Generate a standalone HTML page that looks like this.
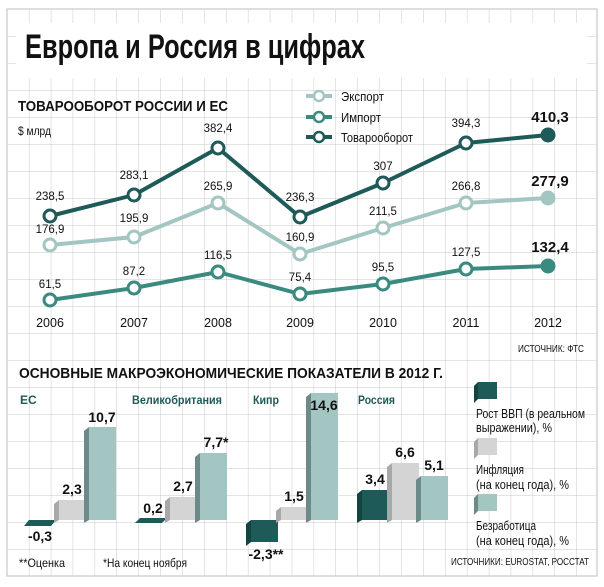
<!DOCTYPE html>
<html><head><meta charset="utf-8"><style>
body{margin:0;background:#fff}
svg{display:block}
text{font-family:"Liberation Sans",sans-serif;fill:#111}
</style></head><body>
<svg width="604" height="587" viewBox="0 0 604 587" xmlns="http://www.w3.org/2000/svg">
<defs>
<pattern id="g" x="7" y="9" width="21.9" height="27" patternUnits="userSpaceOnUse">
<path d="M0 0V27M0 0H21.9" stroke="#c9c9c9" stroke-width="1" fill="none"/>
</pattern>
</defs>
<rect x="7" y="9" width="590" height="567" fill="url(#g)"/>
<rect x="7" y="9" width="590" height="567" fill="none" stroke="#c9c9c9" stroke-width="1.2"/>
<rect x="16" y="23" width="571" height="55" fill="#fff"/>
<text x="25" y="58" font-size="34" font-weight="bold" textLength="340" lengthAdjust="spacingAndGlyphs">Европа и Россия в цифрах</text>

<text x="18" y="111" font-size="15" font-weight="bold" textLength="210" lengthAdjust="spacingAndGlyphs">ТОВАРООБОРОТ РОССИИ И ЕС</text>
<text x="18" y="135" font-size="12" textLength="33" lengthAdjust="spacingAndGlyphs">$ млрд</text>

<g stroke-width="4" fill="#fff">
<line x1="306" y1="96" x2="332" y2="96" stroke="#a3c6c3"/><circle cx="319" cy="96" r="5" stroke="#a3c6c3" stroke-width="2.5"/>
<line x1="306" y1="117" x2="332" y2="117" stroke="#3a8a80"/><circle cx="319" cy="117" r="5" stroke="#3a8a80" stroke-width="2.5"/>
<line x1="306" y1="137" x2="332" y2="137" stroke="#1d5a58"/><circle cx="319" cy="137" r="5" stroke="#1d5a58" stroke-width="2.5"/>
</g>
<text x="341" y="101" font-size="13" textLength="43" lengthAdjust="spacingAndGlyphs">Экспорт</text>
<text x="341" y="122" font-size="13" textLength="40" lengthAdjust="spacingAndGlyphs">Импорт</text>
<text x="341" y="142" font-size="13" textLength="72" lengthAdjust="spacingAndGlyphs">Товарооборот</text>

<g fill="none" stroke-width="4" stroke-linejoin="round">
<polyline stroke="#a3c6c3" points="50,245 134,237 218,203 300,254 383,228 466,203 548,198"/>
<polyline stroke="#3a8a80" points="50,300 134,288 218,272 300,294 383,284 466,269 548,266"/>
<polyline stroke="#1d5a58" points="50,216 134,195 218,148 300,217 383,183 466,143 548,135"/>
</g>
<g fill="#fff" stroke-width="3">
<g stroke="#a3c6c3"><circle cx="50" cy="245" r="6"/><circle cx="134" cy="237" r="6"/><circle cx="218" cy="203" r="6"/><circle cx="300" cy="254" r="6"/><circle cx="383" cy="228" r="6"/><circle cx="466" cy="203" r="6"/><circle cx="548" cy="198" r="6" fill="#a3c6c3"/></g>
<g stroke="#3a8a80"><circle cx="50" cy="300" r="6"/><circle cx="134" cy="288" r="6"/><circle cx="218" cy="272" r="6"/><circle cx="300" cy="294" r="6"/><circle cx="383" cy="284" r="6"/><circle cx="466" cy="269" r="6"/><circle cx="548" cy="266" r="6" fill="#3a8a80"/></g>
<g stroke="#1d5a58"><circle cx="50" cy="216" r="6"/><circle cx="134" cy="195" r="6"/><circle cx="218" cy="148" r="6"/><circle cx="300" cy="217" r="6"/><circle cx="383" cy="183" r="6"/><circle cx="466" cy="143" r="6"/><circle cx="548" cy="135" r="6" fill="#1d5a58"/></g>
</g>
<g font-size="11.5" text-anchor="middle">
<text x="50" y="200">238,5</text><text x="134" y="179">283,1</text><text x="218" y="132">382,4</text><text x="300" y="201">236,3</text><text x="383" y="170">307</text><text x="466" y="127">394,3</text>
<text x="50" y="233">176,9</text><text x="134" y="222">195,9</text><text x="218" y="190">265,9</text><text x="300" y="241">160,9</text><text x="383" y="215">211,5</text><text x="466" y="190">266,8</text>
<text x="50" y="288">61,5</text><text x="134" y="275">87,2</text><text x="218" y="259">116,5</text><text x="300" y="281">75,4</text><text x="383" y="271">95,5</text><text x="466" y="256">127,5</text>
</g>
<g font-size="15" font-weight="bold" text-anchor="middle">
<text x="550" y="122">410,3</text><text x="550" y="186">277,9</text><text x="550" y="252">132,4</text>
</g>
<g font-size="12.5" text-anchor="middle">
<text x="50" y="327">2006</text><text x="134" y="327">2007</text><text x="218" y="327">2008</text><text x="300" y="327">2009</text><text x="383" y="327">2010</text><text x="466" y="327">2011</text><text x="548" y="327">2012</text>
</g>
<text x="518" y="352" font-size="10" textLength="66" lengthAdjust="spacingAndGlyphs">ИСТОЧНИК: ФТС</text>

<text x="19" y="378" font-size="15" font-weight="bold" textLength="424" lengthAdjust="spacingAndGlyphs">ОСНОВНЫЕ МАКРОЭКОНОМИЧЕСКИЕ ПОКАЗАТЕЛИ В 2012 Г.</text>
<g font-size="12" font-weight="bold">
<text x="20" y="404" style="fill:#1d5a58">ЕС</text>
<text x="132" y="404" style="fill:#1d5a58" textLength="90" lengthAdjust="spacingAndGlyphs">Великобритания</text>
<text x="253" y="404" style="fill:#1d5a58" textLength="26" lengthAdjust="spacingAndGlyphs">Кипр</text>
<text x="358" y="404" style="fill:#1d5a58" textLength="37" lengthAdjust="spacingAndGlyphs">Россия</text>
</g>

<g>
<polygon points="24,526 29,520 56,520 51,526" fill="#1d5a58"/>
<rect x="59" y="500" width="27" height="20" fill="#d4d4d4"/><polygon points="54,504 59,500 59,520 54,523" fill="#a8a8a8"/>
<rect x="89" y="427" width="27" height="93" fill="#a3c6c3"/><polygon points="84,431 89,427 89,520 84,523" fill="#6b8a88"/>
<polygon points="135,523 140,518 167,518 162,523" fill="#1d5a58"/>
<rect x="170" y="497" width="27" height="23" fill="#d4d4d4"/><polygon points="165,501 170,497 170,520 165,523" fill="#a8a8a8"/>
<rect x="200" y="453" width="27" height="67" fill="#a3c6c3"/><polygon points="195,457 200,453 200,520 195,523" fill="#6b8a88"/>
<rect x="251" y="520" width="27" height="22" fill="#1d5a58"/><polygon points="246,524 251,520 251,542 246,546" fill="#134442"/>
<rect x="281" y="507" width="27" height="13" fill="#d4d4d4"/><polygon points="276,511 281,507 281,520 276,523" fill="#a8a8a8"/>
<rect x="311" y="393" width="27" height="127" fill="#a3c6c3"/><polygon points="306,397 311,393 311,520 306,523" fill="#6b8a88"/>
<rect x="362" y="490" width="27" height="30" fill="#1d5a58"/><polygon points="357,494 362,490 362,520 357,523" fill="#134442"/>
<rect x="392" y="463" width="27" height="57" fill="#d4d4d4"/><polygon points="387,467 392,463 392,520 387,523" fill="#a8a8a8"/>
<rect x="421" y="476" width="27" height="44" fill="#a3c6c3"/><polygon points="416,480 421,476 421,520 416,523" fill="#6b8a88"/>
<rect x="478" y="382" width="19" height="17" fill="#1d5a58"/><polygon points="474,386 478,382 478,399 474,403" fill="#134442"/>
<rect x="478" y="438" width="19" height="17" fill="#d4d4d4"/><polygon points="474,442 478,438 478,455 474,459" fill="#a8a8a8"/>
<rect x="478" y="494" width="19" height="17" fill="#a3c6c3"/><polygon points="474,498 478,494 478,511 474,515" fill="#6b8a88"/>
</g>
<g font-size="14" font-weight="bold" text-anchor="middle">
<text x="40" y="541">-0,3</text><text x="72" y="494">2,3</text><text x="102" y="422">10,7</text>
<text x="153" y="513">0,2</text><text x="183" y="491">2,7</text><text x="216" y="447">7,7*</text>
<text x="266" y="559">-2,3**</text><text x="294" y="501">1,5</text><text x="324" y="410">14,6</text>
<text x="375" y="484">3,4</text><text x="405" y="457">6,6</text><text x="434" y="470">5,1</text>
</g>
<g font-size="12.5">
<text x="476" y="418" textLength="109" lengthAdjust="spacingAndGlyphs">Рост ВВП (в реальном</text><text x="476" y="432" textLength="76" lengthAdjust="spacingAndGlyphs">выражении), %</text>
<text x="476" y="474" textLength="48" lengthAdjust="spacingAndGlyphs">Инфляция</text><text x="476" y="489" textLength="93" lengthAdjust="spacingAndGlyphs">(на конец года), %</text>
<text x="476" y="530" textLength="60" lengthAdjust="spacingAndGlyphs">Безработица</text><text x="476" y="545" textLength="93" lengthAdjust="spacingAndGlyphs">(на конец года), %</text>
</g>
<text x="19" y="567" font-size="12" textLength="46" lengthAdjust="spacingAndGlyphs">**Оценка</text>
<text x="103" y="567" font-size="12" textLength="84" lengthAdjust="spacingAndGlyphs">*На конец ноября</text>
<text x="451" y="565" font-size="10" textLength="138" lengthAdjust="spacingAndGlyphs">ИСТОЧНИКИ: EUROSTAT, РОССТАТ</text>
</svg>
</body></html>
